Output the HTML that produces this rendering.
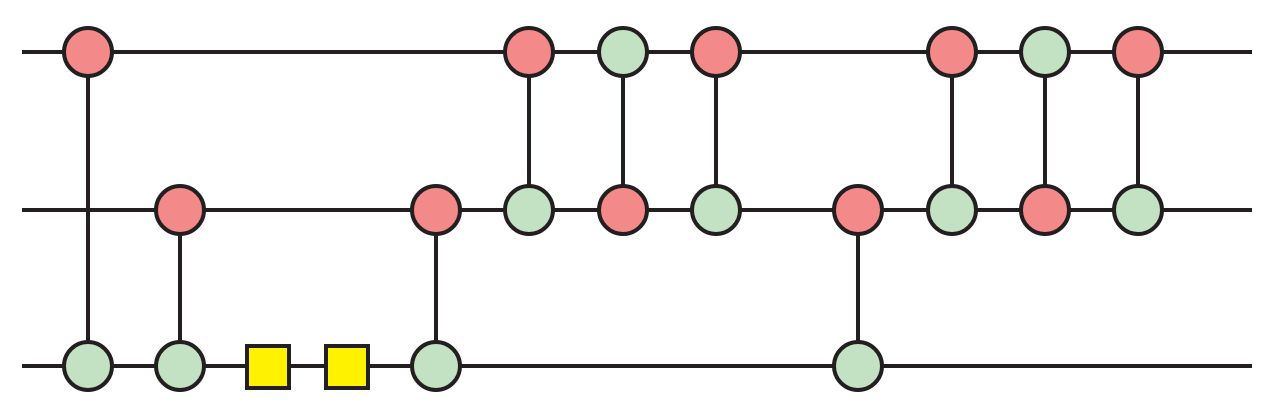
<!DOCTYPE html>
<html><head><style>html,body{margin:0;padding:0;background:#fff}svg{display:block}</style></head>
<body>
<svg width="1274" height="420" viewBox="0 0 1274 420">
<g stroke="#231f20" stroke-width="4" fill="none">
<line x1="22" y1="52" x2="1252" y2="52"/>
<line x1="22" y1="210" x2="1252" y2="210"/>
<line x1="22" y1="366" x2="1252" y2="366"/>
<line x1="88" y1="52" x2="88" y2="366"/>
<line x1="180" y1="210" x2="180" y2="366"/>
<line x1="436" y1="210" x2="436" y2="366"/>
<line x1="858" y1="210" x2="858" y2="366"/>
<line x1="529" y1="52" x2="529" y2="210"/>
<line x1="623" y1="52" x2="623" y2="210"/>
<line x1="716" y1="52" x2="716" y2="210"/>
<line x1="952" y1="52" x2="952" y2="210"/>
<line x1="1045" y1="52" x2="1045" y2="210"/>
<line x1="1138" y1="52" x2="1138" y2="210"/>
</g>
<g stroke="#231f20" stroke-width="4">
<g fill="#f4898a">
<circle cx="88" cy="52" r="24"/><circle cx="529" cy="52" r="24"/><circle cx="716" cy="52" r="24"/>
<circle cx="952" cy="52" r="24"/><circle cx="1138" cy="52" r="24"/>
<circle cx="180" cy="210" r="24"/><circle cx="436" cy="210" r="24"/><circle cx="623" cy="210" r="24"/>
<circle cx="858" cy="210" r="24"/><circle cx="1045" cy="210" r="24"/>
</g>
<g fill="#c3e1c3">
<circle cx="623" cy="52" r="24"/><circle cx="1045" cy="52" r="24"/>
<circle cx="529" cy="210" r="24"/><circle cx="716" cy="210" r="24"/><circle cx="952" cy="210" r="24"/><circle cx="1138" cy="210" r="24"/>
<circle cx="88" cy="366" r="24"/><circle cx="180" cy="366" r="24"/><circle cx="436" cy="366" r="24"/><circle cx="858" cy="366" r="24"/>
</g>
<g fill="#fff200">
<rect x="247" y="346" width="42" height="42"/>
<rect x="326" y="346" width="42" height="42"/>
</g>
</g>
</svg>
</body></html>
